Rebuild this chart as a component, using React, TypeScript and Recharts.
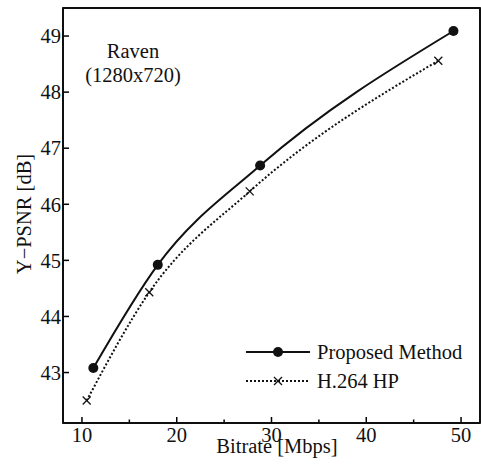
import { Line, LineChart, ReferenceArea, XAxis, YAxis } from 'recharts';

const FONT = '"Liberation Serif", "Times New Roman", serif';

// Raven (1280x720) – bitrate [Mbps] vs Y-PSNR [dB]
const proposedRate = [11.2, 18.0, 28.8, 49.2];
const proposedPsnr = [43.08, 44.92, 46.69, 49.09];
const h264Rate = [10.5, 17.1, 27.7, 47.6];
const h264Psnr = [42.5, 44.43, 46.23, 48.56];

const xTicks = [10, 15, 20, 25, 30, 35, 40, 45, 50];
const xMajor = [10, 20, 30, 40, 50];
const yTicks = [43, 44, 45, 46, 47, 48, 49];
const xDomain = [8, 52];
const yDomain = [42.1, 49.5];

const proposed = proposedRate.map((x, i) => ({ x, y: proposedPsnr[i] }));
const h264 = h264Rate.map((x, i) => ({ x, y: h264Psnr[i] }));

const tickStyle = { fontSize: 20.5, fill: '#111', fontFamily: FONT };

const TICK_MARGIN = 4;

// plot box (chart margins + axis sizes)
const BOX = { left: 63, top: 8, right: 480, bottom: 423 };

// bottom ticks: label only on majors, shorter inward line on minors
const BottomTick = (p: any) => {
  const { x, y, payload } = p;
  const axisY = y - TICK_MARGIN;
  const major = xMajor.includes(payload.value);
  return (
    <g>
      <line x1={x} y1={axisY} x2={x} y2={axisY - (major ? 6 : 3.5)} stroke="black" strokeWidth={1.5} />
      {major && (
        <text x={x} y={y} dy="0.71em" textAnchor="middle" {...tickStyle}>
          {payload.value}
        </text>
      )}
    </g>
  );
};

const CrossDot = (p: any) => {
  const { cx, cy } = p;
  if (cx == null || cy == null) return null;
  const s = 4;
  return (
    <g key={`c-${cx}-${cy}`}>
      <line x1={cx - s} y1={cy - s} x2={cx + s} y2={cy + s} stroke="#111" strokeWidth={1.3} />
      <line x1={cx - s} y1={cy + s} x2={cx + s} y2={cy - s} stroke="#111" strokeWidth={1.3} />
    </g>
  );
};

const noLabel = () => '';

// frame, legend + annotations, drawn in an overlay svg on top of the chart
const Overlay = () => (
  <svg width={481} height={476} style={{ position: 'absolute', left: 0, top: 0, pointerEvents: 'none' }}>
    <rect
      x={BOX.left}
      y={BOX.top}
      width={BOX.right - BOX.left}
      height={BOX.bottom - BOX.top}
      fill="none"
      stroke="#111"
      strokeWidth={1.5}
    />
    <line x1={246} y1={352} x2={310} y2={352} stroke="#111" strokeWidth={2} />
    <circle cx={278} cy={352} r={5} fill="#111" />
    <text x={317} y={352} dominantBaseline="central" {...tickStyle}>
      Proposed Method
    </text>
    <line x1={246} y1={381} x2={310} y2={381} stroke="#111" strokeWidth={2} strokeDasharray="2 2" />
    <line x1={274} y1={377} x2={282} y2={385} stroke="#111" strokeWidth={1.3} />
    <line x1={274} y1={385} x2={282} y2={377} stroke="#111" strokeWidth={1.3} />
    <text x={317} y={381} dominantBaseline="central" {...tickStyle}>
      H.264 HP
    </text>
    <text x={133} y={58} textAnchor="middle" {...tickStyle}>
      Raven
    </text>
    <text x={133} y={82} textAnchor="middle" {...tickStyle}>
      (1280x720)
    </text>
    <text x={277} y={453} textAnchor="middle" {...tickStyle}>
      Bitrate [Mbps]
    </text>
    <text x={24} y={214} transform="rotate(-90 24 214)" textAnchor="middle" dominantBaseline="central" {...tickStyle}>
      Y−PSNR [dB]
    </text>
  </svg>
);

export default function App() {
  return (
    <div style={{ position: 'absolute', left: 0, top: 0, width: 481, height: 476, background: '#fff' }}>
      <LineChart width={481} height={476} margin={{ top: 7, right: 0, left: 0, bottom: 0 }}>
        <XAxis
          xAxisId="b"
          type="number"
          dataKey="x"
          domain={xDomain}
          ticks={xTicks}
          interval={0}
          height={53}
          tick={<BottomTick />}
          axisLine={{ stroke: 'black', strokeWidth: 1.5 }}
          tickLine={false}
          tickSize={0}
          tickMargin={TICK_MARGIN}
        />
        <XAxis
          xAxisId="top"
          type="number"
          domain={xDomain}
          ticks={xTicks}
          interval={0}
          height={1}
          orientation="top"
          tickFormatter={noLabel}
          axisLine={{ stroke: 'black', strokeWidth: 1.5 }}
          tickLine={{ stroke: 'black', strokeWidth: 1.5 }}
          tickSize={-5}
        />
        <YAxis
          yAxisId="l"
          type="number"
          domain={yDomain}
          ticks={yTicks}
          interval={0}
          width={63}
          tick={{ ...tickStyle }}
          axisLine={{ stroke: 'black', strokeWidth: 1.5 }}
          tickLine={{ stroke: 'black', strokeWidth: 1.5 }}
          tickSize={-6}
          tickMargin={8}
        />
        <YAxis
          yAxisId="r"
          type="number"
          orientation="right"
          domain={yDomain}
          ticks={yTicks}
          interval={0}
          width={1}
          tickFormatter={noLabel}
          axisLine={{ stroke: 'black', strokeWidth: 1.5 }}
          tickLine={{ stroke: 'black', strokeWidth: 1.5 }}
          tickSize={-5}
        />
        <ReferenceArea
          xAxisId="b"
          yAxisId="l"
          x1={xDomain[0]}
          x2={xDomain[1]}
          y1={yDomain[0]}
          y2={yDomain[1]}
          fill="none"
          fillOpacity={0}
          stroke="black"
          strokeWidth={1.5}
        />
        <Line
          xAxisId="b"
          yAxisId="l"
          data={h264}
          dataKey="y"
          name="H.264 HP"
          type="monotone"
          stroke="#111"
          strokeWidth={2}
          strokeDasharray="2 2"
          dot={CrossDot}
          isAnimationActive={false}
        />
        <Line
          xAxisId="b"
          yAxisId="l"
          data={proposed}
          dataKey="y"
          name="Proposed Method"
          type="monotone"
          stroke="#111"
          strokeWidth={2}
          dot={{ r: 5, fill: '#111', stroke: '#111', strokeWidth: 0 }}
          isAnimationActive={false}
        />
      </LineChart>
      <Overlay />
    </div>
  );
}
